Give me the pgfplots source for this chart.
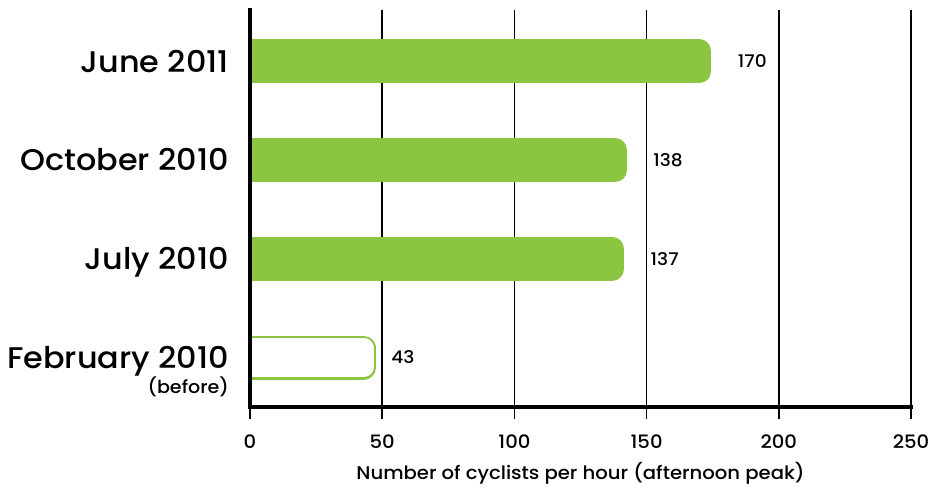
\documentclass[border=0pt]{standalone}
\usepackage{pgfplots}
\pgfplotsset{compat=1.18}
\usepackage{fontspec}
\IfFontExistsTF{Poppins Medium}{\setmainfont{Poppins Medium}[FakeStretch=1.065]}{\setmainfont{Poppins}[FakeStretch=1.065]}
\definecolor{barg}{RGB}{139,197,65}
\pgfplotsset{
  layers/mylayers/.define layer set={
    axis background,axis grid,axis ticks,main,axis lines,axis tick labels,axis descriptions,axis foreground
  }{
    grid style={/pgfplots/on layer=axis grid},
    tick style={/pgfplots/on layer=axis ticks},
    axis line style={/pgfplots/on layer=axis lines},
    label style={/pgfplots/on layer=axis descriptions},
    legend style={/pgfplots/on layer=axis foreground},
    title style={/pgfplots/on layer=axis descriptions},
    colorbar style={/pgfplots/on layer=axis descriptions},
    ticklabel style={/pgfplots/on layer=axis tick labels},
    axis background@ style={/pgfplots/on layer=axis background},
    3d box foreground style={/pgfplots/on layer=axis foreground},
  },
}
\begin{document}
\begin{tikzpicture}
\begin{axis}[
  set layers=mylayers,
  at={(0,0)}, anchor=south west,
  scale only axis, width=661bp, height=397bp,
  xmin=0, xmax=250, ymin=-0.5, ymax=3.52,
  axis x line=bottom, axis y line=left,
  axis line style={-, line width=4.5bp, black, line cap=rect},
  xtick={0,50,100,150,200,250},
  xmajorgrids, grid style={black, line width=1.6bp},
  xtick style={black, line width=1.6bp},
  xtick align=outside, major tick length=12bp,
  ytick={0,1,2,3}, ytick style={draw=none}, ytick align=inside,
  yticklabels={{\begin{tabular}[t]{@{}r@{}}February 2010\\[-5bp]{\fontsize{18}{18}\selectfont(before)}\end{tabular}},July 2010,October 2010,June 2011},
  yticklabel style={font=\fontsize{30}{30}\selectfont, text height=21bp, text depth=0pt, inner sep=0pt, anchor=north east, yshift=10.5bp, xshift=-21bp},
  /pgf/number format/assume math mode=true,
  xticklabel style={font=\fontsize{18.5}{20}\selectfont, inner sep=0pt, anchor=north, text height=13bp, text depth=0pt, yshift=-16bp},
  xlabel={Number of cyclists per hour (afternoon peak)},
  xlabel style={font=\fontsize{18.5}{19}\selectfont, at={(axis description cs:0.5,0)}, anchor=center, yshift=-66bp},
  point meta=x,
  nodes near coords,
  nodes near coords style={font=\fontsize{17.5}{20}\selectfont, text=black, anchor=west, inner sep=0pt, text height=12.5bp, text depth=0pt, xshift=26.5bp},
]
\addplot[xbar, bar width=20bp, fill=barg, draw=barg, line width=24bp, line join=round] coordinates {(137,1) (138,2) (170,3)};
\addplot[xbar, bar width=19bp, fill=white, draw=barg, line width=2.5bp, double=white, double distance=20bp, line join=round] coordinates {(43,0)};
\end{axis}
\pgfresetboundingbox
\useasboundingbox (-250bp,-81bp) rectangle (683bp,407bp);
\end{tikzpicture}
\end{document}
